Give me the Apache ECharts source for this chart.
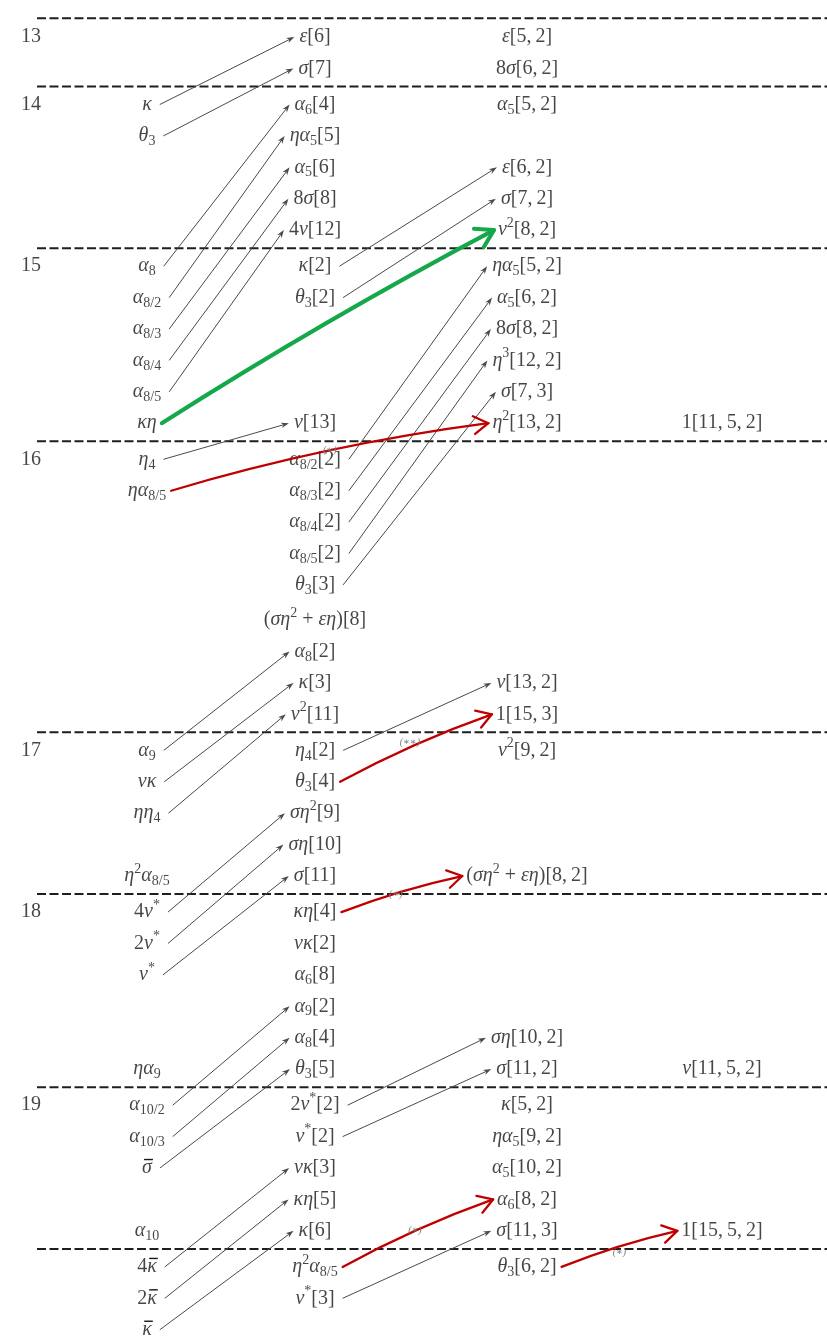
<!DOCTYPE html>
<html><head><meta charset="utf-8">
<script src="https://cdn.jsdelivr.net/npm/echarts@6/dist/echarts.min.js"></script>
<style>html,body{margin:0;padding:0;background:#fff}#c{width:827px;height:1337px}</style>
</head><body><div id="c"></div>
<script>
// ================= DATA =================
const stems = [13, 14, 15, 16, 17, 18, 19, 20];
const linesPerStem = [2, 5, 6, 9, 5, 6, 5, 3];
// column 0: stem numbers, shown on line 0 of each stem
const stemLabels = [[13, '13'], [14, '14'], [15, '15'], [16, '16'], [17, '17'], [18, '18'], [19, '19']];
// [stem, line, label]  ( _{..} subscript, ^{..} superscript, !x overlined x )
const col1 = [
  [14,0,'κ'],[14,1,'θ_{3}'],
  [15,0,'α_{8}'],[15,1,'α_{8/2}'],[15,2,'α_{8/3}'],[15,3,'α_{8/4}'],[15,4,'α_{8/5}'],[15,5,'κη'],
  [16,0,'η_{4}'],[16,1,'ηα_{8/5}'],
  [17,0,'α_{9}'],[17,1,'νκ'],[17,2,'ηη_{4}'],[17,4,'η^{2}α_{8/5}'],
  [18,0,'4ν^{*}'],[18,1,'2ν^{*}'],[18,2,'ν^{*}'],[18,5,'ηα_{9}'],
  [19,0,'α_{10/2}'],[19,1,'α_{10/3}'],[19,2,'!σ'],[19,4,'α_{10}'],
  [20,0,'4!κ'],[20,1,'2!κ'],[20,2,'!κ']
];
const col2 = [
  [13,0,'ε[6]'],[13,1,'σ[7]'],
  [14,0,'α_{6}[4]'],[14,1,'ηα_{5}[5]'],[14,2,'α_{5}[6]'],[14,3,'8σ[8]'],[14,4,'4ν[12]'],
  [15,0,'κ[2]'],[15,1,'θ_{3}[2]'],[15,5,'ν[13]'],
  [16,0,'α_{8/2}[2]'],[16,1,'α_{8/3}[2]'],[16,2,'α_{8/4}[2]'],[16,3,'α_{8/5}[2]'],[16,4,'θ_{3}[3]'],
  [16,5,'(ση^{2} + εη)[8]'],[16,6,'α_{8}[2]'],[16,7,'κ[3]'],[16,8,'ν^{2}[11]'],
  [17,0,'η_{4}[2]'],[17,1,'θ_{3}[4]'],[17,2,'ση^{2}[9]'],[17,3,'ση[10]'],[17,4,'σ[11]'],
  [18,0,'κη[4]'],[18,1,'νκ[2]'],[18,2,'α_{6}[8]'],[18,3,'α_{9}[2]'],[18,4,'α_{8}[4]'],[18,5,'θ_{3}[5]'],
  [19,0,'2ν^{*}[2]'],[19,1,'ν^{*}[2]'],[19,2,'νκ[3]'],[19,3,'κη[5]'],[19,4,'κ[6]'],
  [20,0,'η^{2}α_{8/5}'],[20,1,'ν^{*}[3]']
];
const col3 = [
  [13,0,'ε[5,\u20092]'],[13,1,'8σ[6,\u20092]'],
  [14,0,'α_{5}[5,\u20092]'],[14,2,'ε[6,\u20092]'],[14,3,'σ[7,\u20092]'],[14,4,'ν^{2}[8,\u20092]'],
  [15,0,'ηα_{5}[5,\u20092]'],[15,1,'α_{5}[6,\u20092]'],[15,2,'8σ[8,\u20092]'],[15,3,'η^{3}[12,\u20092]'],[15,4,'σ[7,\u20093]'],[15,5,'η^{2}[13,\u20092]'],
  [16,7,'ν[13,\u20092]'],[16,8,'1[15,\u20093]'],
  [17,0,'ν^{2}[9,\u20092]'],[17,4,'(ση^{2} + εη)[8,\u20092]'],
  [18,4,'ση[10,\u20092]'],[18,5,'σ[11,\u20092]'],
  [19,0,'κ[5,\u20092]'],[19,1,'ηα_{5}[9,\u20092]'],[19,2,'α_{5}[10,\u20092]'],[19,3,'α_{6}[8,\u20092]'],[19,4,'σ[11,\u20093]'],
  [20,0,'θ_{3}[6,\u20092]']
];
const col4 = [
  [15,5,'1[11,\u20095,\u20092]'],[18,5,'ν[11,\u20095,\u20092]'],[19,4,'1[15,\u20095,\u20092]']
];
// differentials: [source column, source stem, source line, target line] ; target = column+1, stem-1
const grayArrows = [
  [1,14,0,0],[1,14,1,1],[1,15,0,0],[1,15,1,1],[1,15,2,2],[1,15,3,3],[1,15,4,4],[1,16,0,5],
  [1,17,0,6],[1,17,1,7],[1,17,2,8],[1,18,0,2],[1,18,1,3],[1,18,2,4],[1,19,0,3],[1,19,1,4],[1,19,2,5],
  [1,20,0,2],[1,20,1,3],[1,20,2,4],
  [2,15,0,2],[2,15,1,3],[2,16,0,0],[2,16,1,1],[2,16,2,2],[2,16,3,3],[2,16,4,4],[2,17,0,7],
  [2,19,0,4],[2,19,1,5],[2,20,1,4]
];
// hand-drawn longer differentials: [source column, source stem, source line, target column, target line]
const redArrows = [[1,16,1,3,5],[2,17,1,3,8],[2,18,0,3,4],[2,20,0,3,3],[3,20,0,4,4]];
const greenArrows = [[1,15,5,3,4]];
// small notes attached to the arrow leaving [column, stem, line]
const notes = [['(∗)',1,16,1],['(∗∗)',2,17,0],['(∗)',2,18,0],['(∗)',2,20,0],['(∗)',3,20,0]];

// ================= LAYOUT / STYLE =================
const W = 827, H = 1337;
const COLX = [31, 147, 315, 527, 722];     // column centres (px along x axis)
const PX_PER_LINE = 31.4, TOP_PX = 37, GAP = 0.15, SEP_TOP = 0.6, SEP_X0 = 37;
const TALL = {stem: 16, fromLine: 5, add: 0.12};
const NOTE_POS = [[0.5,-7],[0.45,22],[0.45,-1],[0.48,-4],[0.5,3]];
const FONT = "'Liberation Serif','DejaVu Serif',serif";
const TXT = '#161616', GRAY = '#4a4a4a', RED = '#c00000', GREEN = '#14a84a';
const BASE = 20, SMALL = 14;
const RICH = {
  r: {fontFamily: FONT, fontSize: BASE, fontStyle: 'normal', color: TXT},
  i: {fontFamily: FONT, fontSize: BASE, fontStyle: 'italic', color: TXT},
  s: {fontFamily: FONT, fontSize: SMALL, fontStyle: 'normal', color: TXT, padding: [11, 0, 0, 0]},
  p: {fontFamily: FONT, fontSize: SMALL, fontStyle: 'normal', color: TXT, padding: [0, 0, 14, 0]}
};

// ---- rows ----
const stemStart = {};
(function(){ let acc = 0; stems.forEach((s, k) => { stemStart[s] = acc; acc += linesPerStem[k] + GAP + (s === TALL.stem ? TALL.add : 0); }); })();
function yOf(s, l){ return stemStart[s] + l + (s === TALL.stem && l >= TALL.fromLine ? TALL.add : 0); }

// ---- rich text ----
const GREEK = 'αβγδεζηθικλμνξπρστυφχψω';
const mctx = document.createElement('canvas').getContext('2d');
function tw(k, t){ const st = RICH[k]; mctx.font = `${st.fontStyle} ${st.fontSize}px ${FONT}`; return mctx.measureText(t).width; }
function parse(src){
  const toks = [], bars = [];
  const push = (k, t) => { const last = toks[toks.length - 1]; if (last && last[0] === k) last[1] += t; else toks.push([k, t]); };
  let i = 0, w = 0;
  while (i < src.length){
    const ch = src[i];
    if ((ch === '_' || ch === '^') && src[i+1] === '{'){
      const j = src.indexOf('}', i); const k = ch === '_' ? 's' : 'p', t = src.slice(i+2, j);
      push(k, t); w += tw(k, t); i = j + 1; continue;
    }
    if (ch === '!'){ const g = src[i+1], gw = tw('i', g); bars.push([w, gw]); push('i', g); w += gw; i += 2; continue; }
    const k = GREEK.includes(ch) ? 'i' : 'r';
    push(k, ch); w += tw(k, ch); i++;
  }
  return {toks, bars};
}
function widthOf(toks){ return toks.reduce((w, [k, t]) => w + tw(k, t), 0); }

// ---- nodes ----
const nodes = [], byKey = {}, barData = [];
function addNode(c, s, l, txt){
  const {toks, bars} = parse(txt);
  const n = {x: COLX[c], y: yOf(s, l), rich: toks.map(([k, t]) => `{${k}|${t}}`).join(''), hw: widthOf(toks) / 2};
  nodes.push(n); byKey[`${c}:${s}:${l}`] = n;
  bars.forEach(([off, w]) => barData.push([n.x, n.y, off - n.hw, w]));
}
stemLabels.forEach(([s, t]) => addNode(0, s, 0, t));
[col1, col2, col3, col4].forEach((col, k) => col.forEach(([s, l, t]) => addNode(k + 1, s, l, t)));

function arrowVal(c, s, l, c2, l2){
  const a = byKey[`${c}:${s}:${l}`], b = byKey[`${c2}:${s-1}:${l2}`];
  return [a.x, a.y, b.x, b.y, a.hw, b.hw];
}
const grayData = grayArrows.map(([c, s, l, l2]) => arrowVal(c, s, l, c + 1, l2));
const redData = redArrows.map(([c, s, l, c2, l2]) => arrowVal(c, s, l, c2, l2));
const greenData = greenArrows.map(([c, s, l, c2, l2]) => arrowVal(c, s, l, c2, l2));
const allArrowDefs = grayArrows.map(a => [a[0], a[1], a[2], a[0] + 1, a[3]]).concat(redArrows, greenArrows);
const noteData = notes.map(([txt, c, s, l], k) => {
  const red = redArrows.find(a => a[0] === c && a[1] === s && a[2] === l);
  const def = red || allArrowDefs.find(a => a[0] === c && a[1] === s && a[2] === l);
  return arrowVal(def[0], def[1], def[2], def[3], def[4]).concat([NOTE_POS[k][0], NOTE_POS[k][1], k, red ? 1 : 0]);
});

// ---- separators ----
const seps = [yOf(13, 0) - SEP_TOP];
for (let k = 0; k < stems.length - 1; k++) seps.push((yOf(stems[k], linesPerStem[k] - 1) + yOf(stems[k+1], 0)) / 2);

// ---- geometry helpers (pixel space) ----
function ends(api, padS, padE){
  const p1 = api.coord([api.value(0), api.value(1)]), p2 = api.coord([api.value(2), api.value(3)]);
  return [p1[0] + api.value(4) + padS, p1[1], p2[0] - api.value(5) - padE, p2[1]];
}
function grayRender(params, api){
  const [sx, sy, ex, ey] = ends(api, 8, 5);
  const dx = ex - sx, dy = ey - sy, L = Math.hypot(dx, dy), ux = dx / L, uy = dy / L;
  const hl = 8, hw = 2.8, bx = ex - ux * hl, by = ey - uy * hl;
  return {type: 'group', children: [
    {type: 'line', shape: {x1: sx, y1: sy, x2: bx + ux * 3, y2: by + uy * 3}, style: {stroke: GRAY, lineWidth: 1}},
    {type: 'polygon', shape: {points: [[ex, ey], [bx - uy * hw, by + ux * hw], [bx + ux * 2.5, by + uy * 2.5], [bx + uy * hw, by - ux * hw]]}, style: {fill: GRAY}}
  ]};
}
function handRender(color, width, curv, arm){
  return function(params, api){
    const [sx, sy, ex, ey] = ends(api, 5, 4);
    const dx = ex - sx, dy = ey - sy, L = Math.hypot(dx, dy);
    const cx = (sx + ex) / 2 + dy / L * curv * L, cy = (sy + ey) / 2 - dx / L * curv * L;
    const tx = ex - cx, ty = ey - cy, tl = Math.hypot(tx, ty), ux = tx / tl, uy = ty / tl;
    const ang = 0.55, c1 = Math.cos(ang), s1 = Math.sin(ang);
    const a1 = [ex - arm * (ux * c1 - uy * s1), ey - arm * (uy * c1 + ux * s1)];
    const a2 = [ex - arm * (ux * c1 + uy * s1), ey - arm * (uy * c1 - ux * s1)];
    return {type: 'group', children: [
      {type: 'bezierCurve', shape: {x1: sx, y1: sy, x2: ex, y2: ey, cpx1: cx, cpy1: cy}, style: {stroke: color, lineWidth: width, fill: null, lineCap: 'round'}},
      {type: 'polyline', shape: {points: [a1, [ex, ey], a2]}, style: {stroke: color, lineWidth: width, fill: null, lineCap: 'round', lineJoin: 'round'}}
    ]};
  };
}
function noteRender(params, api){
  const [sx, sy, ex, ey] = api.value(9) ? ends(api, 5, 4) : ends(api, 8, 5);
  const t = api.value(6), d = api.value(7);
  const k = api.value(8);
  return {type: 'text', style: {x: sx + (ex - sx) * t, y: sy + (ey - sy) * t + d, text: notes[k][0], fill: '#7a7a7a',
    font: `italic 10px ${FONT}`, align: 'center', verticalAlign: 'middle'}};
}
function barRender(params, api){
  const p = api.coord([api.value(0), api.value(1)]);
  const x0 = p[0] + api.value(2) + 2, x1 = x0 + api.value(3) - 1, y = p[1] - 8.5;
  return {type: 'line', shape: {x1: x0, y1: y, x2: x1, y2: y}, style: {stroke: TXT, lineWidth: 1.4}};
}

// ================= CHART =================
const chart = echarts.init(document.getElementById('c'), null, {renderer: 'canvas'});
const series = [];
seps.forEach(y => series.push({type: 'line', z: 1, silent: true, symbol: 'none', animation: false,
  data: [[SEP_X0, y], [W, y]], lineStyle: {color: '#1e1e1e', width: 2, type: [9, 3.5]}}));
series.push({type: 'custom', z: 2, silent: true, renderItem: grayRender, data: grayData, encode: {x: [0, 2], y: [1, 3]}});
series.push({type: 'scatter', z: 3, silent: true, symbolSize: 1, itemStyle: {color: 'rgba(0,0,0,0)'},
  data: nodes.map((n, i) => [n.x, n.y, i]),
  label: {show: true, position: 'inside', formatter: p => nodes[p.value[2]].rich, rich: RICH, color: TXT, fontFamily: FONT, fontSize: BASE}});
series.push({type: 'custom', z: 3, silent: true, renderItem: barRender, data: barData, encode: {x: 0, y: 1}});
series.push({type: 'custom', z: 4, silent: true, renderItem: handRender(RED, 2.3, 0.04, 17), data: redData, encode: {x: [0, 2], y: [1, 3]}});
series.push({type: 'custom', z: 4, silent: true, renderItem: handRender(GREEN, 4, 0.02, 20), data: greenData, encode: {x: [0, 2], y: [1, 3]}});
series.push({type: 'custom', z: 5, silent: true, renderItem: noteRender, data: noteData, encode: {x: [0, 2], y: [1, 3]}});

chart.setOption({
  animation: false,
  backgroundColor: '#ffffff',
  grid: {left: 0, right: 0, top: 0, bottom: 0, containLabel: false},
  xAxis: {type: 'value', min: 0, max: W, show: false},
  yAxis: {type: 'value', inverse: true, min: -TOP_PX / PX_PER_LINE, max: (H - TOP_PX) / PX_PER_LINE, show: false},
  series: series
});
</script>
</body></html>
